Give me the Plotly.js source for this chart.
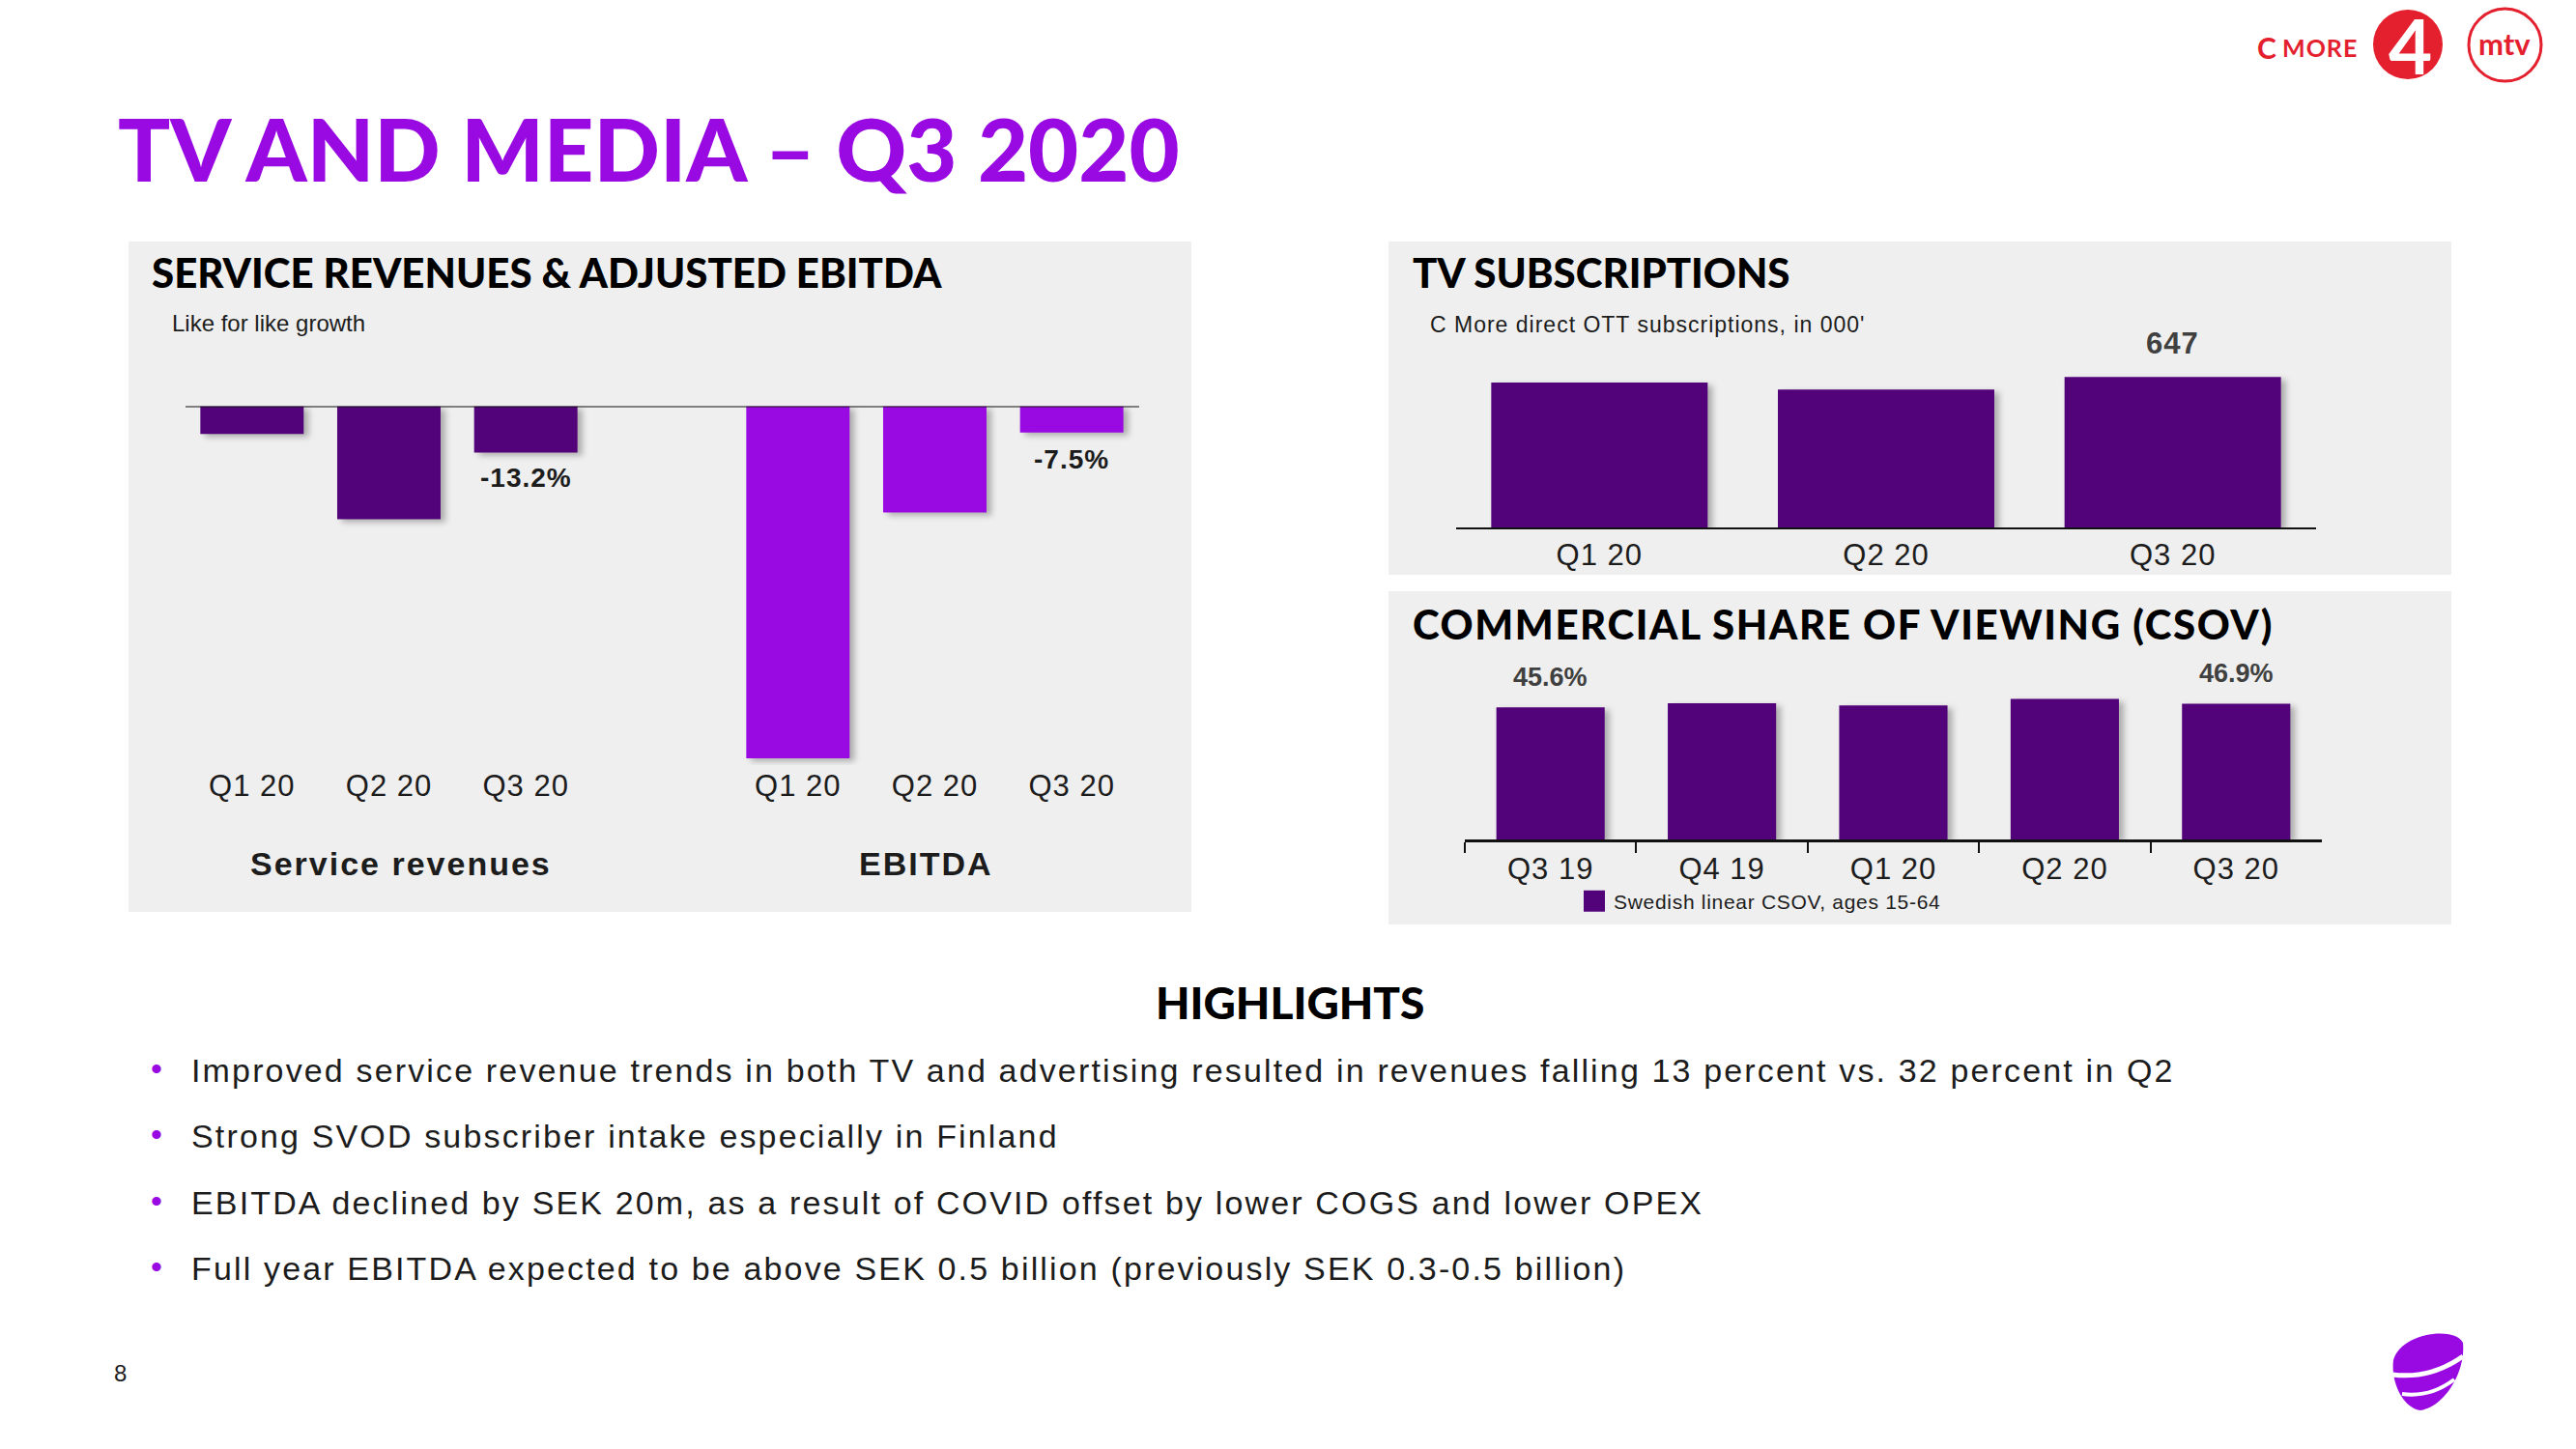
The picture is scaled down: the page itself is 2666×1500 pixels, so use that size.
<!DOCTYPE html>
<html>
<head>
<meta charset="utf-8">
<script src="https://cdn.plot.ly/plotly-3.0.1.min.js"></script>
<style>
html,body{margin:0;padding:0;background:#ffffff;}
#chart{width:2666px;height:1500px;}
g.xtick text, g.x2tick text, g.x3tick text, g.x4tick text{letter-spacing:1px;}
.legendtext{letter-spacing:0.7px;}
g.legendpoints path{d:path("M11,11H-11V-11H11Z");}
.barlayer .point path{filter:drop-shadow(5px 3px 3px rgba(0,0,0,0.28));}
</style>
</head>
<body>
<div id="chart"></div>
<script>
// ---------------- DATA ----------------
const srCategories = ["Q1 20", "Q2 20", "Q3 20"];
const serviceRevenueGrowth = [-7.9, -32.1, -13.2];      // % like-for-like
const srLabelled = [2];

const ebitdaCategories = ["Q1 20", "Q2 20", "Q3 20"];
const ebitdaGrowth = [-100.0, -30.2, -7.5];             // % like-for-like
const ebitdaLabelled = [2];

const groupLabels = ["Service revenues", "EBITDA"];

const subsCategories = ["Q1 20", "Q2 20", "Q3 20"];
const ottSubscriptions = [623, 593, 647];               // C More direct OTT, 000'
const subsLabelled = [2];

const csovCategories = ["Q3 19", "Q4 19", "Q1 20", "Q2 20", "Q3 20"];
const csovShare = [45.6, 47.0, 46.3, 48.5, 46.9];       // %
const csovLabelled = [0, 4];
const csovSeriesName = "Swedish linear CSOV, ages 15-64";

const pageTitle = "TV AND MEDIA – Q3 2020";
const panelTitles = ["SERVICE REVENUES & ADJUSTED EBITDA", "TV SUBSCRIPTIONS", "COMMERCIAL SHARE OF VIEWING (CSOV)"];
const panelSubtitles = ["Like for like growth", "C More direct OTT subscriptions, in 000'"];
const highlightsTitle = "HIGHLIGHTS";
const highlights = [
  "Improved service revenue trends in both TV and advertising resulted in revenues falling 13 percent vs. 32 percent in Q2",
  "Strong SVOD subscriber intake especially in Finland",
  "EBITDA declined by SEK 20m, as a result of COVID offset by lower COGS and lower OPEX",
  "Full year EBITDA expected to be above SEK 0.5 billion (previously SEK 0.3-0.5 billion)"
];
const pageNumber = "8";

// ---------------- HELPERS ----------------
const W = 2666, H = 1500;
const px = x => x / W;
const py = y => 1 - y / H;
const BODY = "'Liberation Sans', Arial, sans-serif";
const HEAD = "Lato, 'Open Sans', sans-serif";
const PURPLE = "#990AE3";
const DEEP = "#52037A";
const RED = "#E4202E";
const INK = "#1c1c1c";
const ls = (t, s) => `<span style="letter-spacing:${s}px">${t}</span>`;
const pct = v => v.toFixed(1) + "%";

// ---------------- TRACES ----------------
const traces = [
  {type: "bar", x: srCategories, y: serviceRevenueGrowth, xaxis: "x", yaxis: "y",
   marker: {color: DEEP}, width: 0.755, hoverinfo: "skip", showlegend: false},
  {type: "bar", x: ebitdaCategories, y: ebitdaGrowth, xaxis: "x2", yaxis: "y",
   marker: {color: PURPLE}, width: 0.755, hoverinfo: "skip", showlegend: false},
  {type: "bar", x: subsCategories, y: ottSubscriptions, xaxis: "x3", yaxis: "y3",
   marker: {color: DEEP}, width: 0.755, hoverinfo: "skip", showlegend: false},
  {type: "bar", x: csovCategories, y: csovShare, xaxis: "x4", yaxis: "y4", name: csovSeriesName,
   marker: {color: DEEP}, width: 0.632, hoverinfo: "skip", showlegend: true}
];

// ---------------- AXES ----------------
const tickFont = {family: BODY, size: 31, color: INK};
const baseX = {type: "category", showgrid: false, zeroline: false, fixedrange: true, tickfont: tickFont};
const baseY = {visible: false, showgrid: false, zeroline: false, fixedrange: true};

const layout = {
  width: W, height: H,
  margin: {l: 0, r: 0, t: 0, b: 0, pad: 0},
  paper_bgcolor: "#ffffff",
  plot_bgcolor: "rgba(0,0,0,0)",
  font: {family: BODY, color: INK},
  showlegend: true,
  legend: {x: px(1630), y: py(933), xanchor: "left", yanchor: "middle",
           bgcolor: "rgba(0,0,0,0)", borderwidth: 0,
           font: {family: BODY, size: 21, color: INK}},
  xaxis:  Object.assign({}, baseX, {domain: [px(190), px(615)], anchor: "y", showline: false, ticks: ""}),
  xaxis2: Object.assign({}, baseX, {domain: [px(755), px(1180)], anchor: "y", showline: false, ticks: ""}),
  yaxis:  Object.assign({}, baseY, {domain: [py(792.3), py(420.4)], range: [-102, 0], anchor: "x"}),
  xaxis3: Object.assign({}, baseX, {domain: [px(1507), px(2397)], anchor: "y3", showline: true,
           linecolor: "#111", linewidth: 2, ticks: ""}),
  yaxis3: Object.assign({}, baseY, {domain: [py(546), py(377.5)], range: [0, 700], anchor: "x3"}),
  xaxis4: Object.assign({}, baseX, {domain: [px(1516), px(2403)], anchor: "y4", showline: true,
           linecolor: "#111", linewidth: 3, ticks: "outside", tickson: "boundaries",
           ticklen: 11, tickwidth: 2, tickcolor: "#111"}),
  yaxis4: Object.assign({}, baseY, {domain: [py(869.3), py(719.1)], range: [0, 50], anchor: "x4"}),
  shapes: [],
  annotations: []
};

// ---------------- PANELS & DECOR ----------------
const rect = (x0, y0, x1, y1, fill) => ({type: "rect", xref: "paper", yref: "paper", layer: "below",
  x0: px(x0), x1: px(x1), y0: py(y1), y1: py(y0), fillcolor: fill, line: {width: 0}});
layout.shapes.push(rect(133, 250, 1233, 944, "#efefef"));
layout.shapes.push(rect(1437, 250, 2537, 595, "#efefef"));
layout.shapes.push(rect(1437, 612, 2537, 957, "#efefef"));
// zero line across both left groups
layout.shapes.push({type: "line", xref: "paper", yref: "y", x0: px(192), x1: px(1179), y0: 0, y1: 0,
  line: {color: "#111", width: 2}});

// logos (top right)
layout.shapes.push({type: "circle", xref: "paper", yref: "paper", x0: px(2456), x1: px(2528), y0: py(82), y1: py(10),
  fillcolor: RED, line: {width: 0}});
layout.shapes.push({type: "circle", xref: "paper", yref: "paper", x0: px(2555), x1: px(2630), y0: py(84), y1: py(9),
  fillcolor: "#ffffff", line: {color: RED, width: 3}});

// Telia logo (bottom right)
const pathOf = (cmds) => cmds.map(c => c[0] + " " + c.slice(1).reduce((acc, v, i) => {
  acc.push(i % 2 === 0 ? px(v).toFixed(5) : py(v).toFixed(5)); return acc;}, []).join(",")).join(" ");
layout.shapes.push({type: "path", xref: "paper", yref: "paper", fillcolor: PURPLE, line: {width: 0},
  path: pathOf([["M", 2477, 1408], ["C", 2484, 1380, 2540, 1372, 2549, 1390], ["C", 2552, 1420, 2530, 1456, 2505, 1460],
                ["C", 2488, 1458, 2474, 1432, 2477, 1408]]) + " Z"});
layout.shapes.push({type: "path", xref: "paper", yref: "paper", line: {color: "#ffffff", width: 5},
  path: pathOf([["M", 2476, 1423], ["Q", 2515, 1428, 2549, 1404]])});
layout.shapes.push({type: "path", xref: "paper", yref: "paper", line: {color: "#ffffff", width: 4},
  path: pathOf([["M", 2486, 1443], ["Q", 2515, 1447, 2540, 1428]])});

const A = layout.annotations;
const ann = (o) => A.push(Object.assign({xref: "paper", yref: "paper", showarrow: false}, o));

// logo texts
ann({x: px(2334), y: py(49), xanchor: "left", yanchor: "middle", text: "<b>C</b>",
     font: {family: HEAD, size: 30, color: RED, weight: 900}});
ann({x: px(2360), y: py(49), xanchor: "left", yanchor: "middle", text: "<b>" + ls("MORE", 1) + "</b>",
     font: {family: HEAD, size: 25, color: RED, weight: 900}});
ann({x: px(2494), y: py(47), xanchor: "center", yanchor: "middle", text: "<b>4</b>",
     font: {family: HEAD, size: 78, color: "#ffffff", weight: 900}});
ann({x: px(2592), y: py(45), xanchor: "center", yanchor: "middle", text: "<b>mtv</b>",
     font: {family: HEAD, size: 31, color: RED, weight: 900}});

// titles
ann({x: px(120), y: py(153), xanchor: "left", yanchor: "middle", text: pageTitle,
     font: {family: HEAD, size: 90, color: PURPLE, weight: 900}});
ann({x: px(155), y: py(282), xanchor: "left", yanchor: "middle", text: panelTitles[0],
     font: {family: HEAD, size: 42, color: "#000", weight: 900}});
ann({x: px(1460), y: py(282), xanchor: "left", yanchor: "middle", text: panelTitles[1],
     font: {family: HEAD, size: 42, color: "#000", weight: 900}});
ann({x: px(1460), y: py(646), xanchor: "left", yanchor: "middle", text: ls(panelTitles[2], 1.6),
     font: {family: HEAD, size: 42, color: "#000", weight: 900}});
ann({x: px(176), y: py(334), xanchor: "left", yanchor: "middle", text: panelSubtitles[0],
     font: {family: BODY, size: 24, color: INK}});
ann({x: px(1478), y: py(336), xanchor: "left", yanchor: "middle", text: ls(panelSubtitles[1], 1),
     font: {family: BODY, size: 23, color: INK}});

// group labels under the left chart
ann({x: px(415), y: py(894), xanchor: "center", yanchor: "middle", text: "<b>" + ls(groupLabels[0], 2) + "</b>",
     font: {family: BODY, size: 34, color: INK}});
ann({x: px(958), y: py(894), xanchor: "center", yanchor: "middle", text: "<b>" + ls(groupLabels[1], 2) + "</b>",
     font: {family: BODY, size: 34, color: INK}});

// value labels (data-anchored)
const valFont = {family: BODY, size: 28, color: INK};
srLabelled.forEach(i => A.push({xref: "x", yref: "y", x: srCategories[i], y: serviceRevenueGrowth[i],
  text: "<b>" + ls(pct(serviceRevenueGrowth[i]), 1) + "</b>", showarrow: false, yanchor: "top", yshift: -8, font: valFont}));
ebitdaLabelled.forEach(i => A.push({xref: "x2", yref: "y", x: ebitdaCategories[i], y: ebitdaGrowth[i],
  text: "<b>" + ls(pct(ebitdaGrowth[i]), 1) + "</b>", showarrow: false, yanchor: "top", yshift: -10, font: valFont}));
subsLabelled.forEach(i => A.push({xref: "x3", yref: "y3", x: subsCategories[i], y: ottSubscriptions[i],
  text: "<b>" + ls(String(ottSubscriptions[i]), 1) + "</b>", showarrow: false, yanchor: "bottom", yshift: 15,
  font: {family: BODY, size: 31, color: "#404040"}}));
csovLabelled.forEach(i => A.push({xref: "x4", yref: "y4", x: csovCategories[i], y: csovShare[i],
  text: "<b>" + pct(csovShare[i]) + "</b>", showarrow: false, yanchor: "bottom", yshift: 14,
  font: {family: BODY, size: 27, color: "#404040"}}));

// highlights
ann({x: px(1335), y: py(1037), xanchor: "center", yanchor: "middle", text: highlightsTitle,
     font: {family: HEAD, size: 46, color: "#000", weight: 900}});
const lineY = [1107.5, 1175.8, 1244.5, 1313];
highlights.forEach((t, i) => {
  ann({x: px(162), y: py(lineY[i] - 2), xanchor: "center", yanchor: "middle", text: "•",
       font: {family: BODY, size: 34, color: PURPLE}});
  ann({x: px(196), y: py(lineY[i]), xanchor: "left", yanchor: "middle", text: ls(t, 2.15),
       font: {family: BODY, size: 34, color: INK}});
});
ann({x: px(124.5), y: py(1421), xanchor: "center", yanchor: "middle", text: pageNumber,
     font: {family: BODY, size: 24, color: INK}});

Plotly.newPlot("chart", traces, layout, {staticPlot: true, displayModeBar: false});
</script>
</body>
</html>
